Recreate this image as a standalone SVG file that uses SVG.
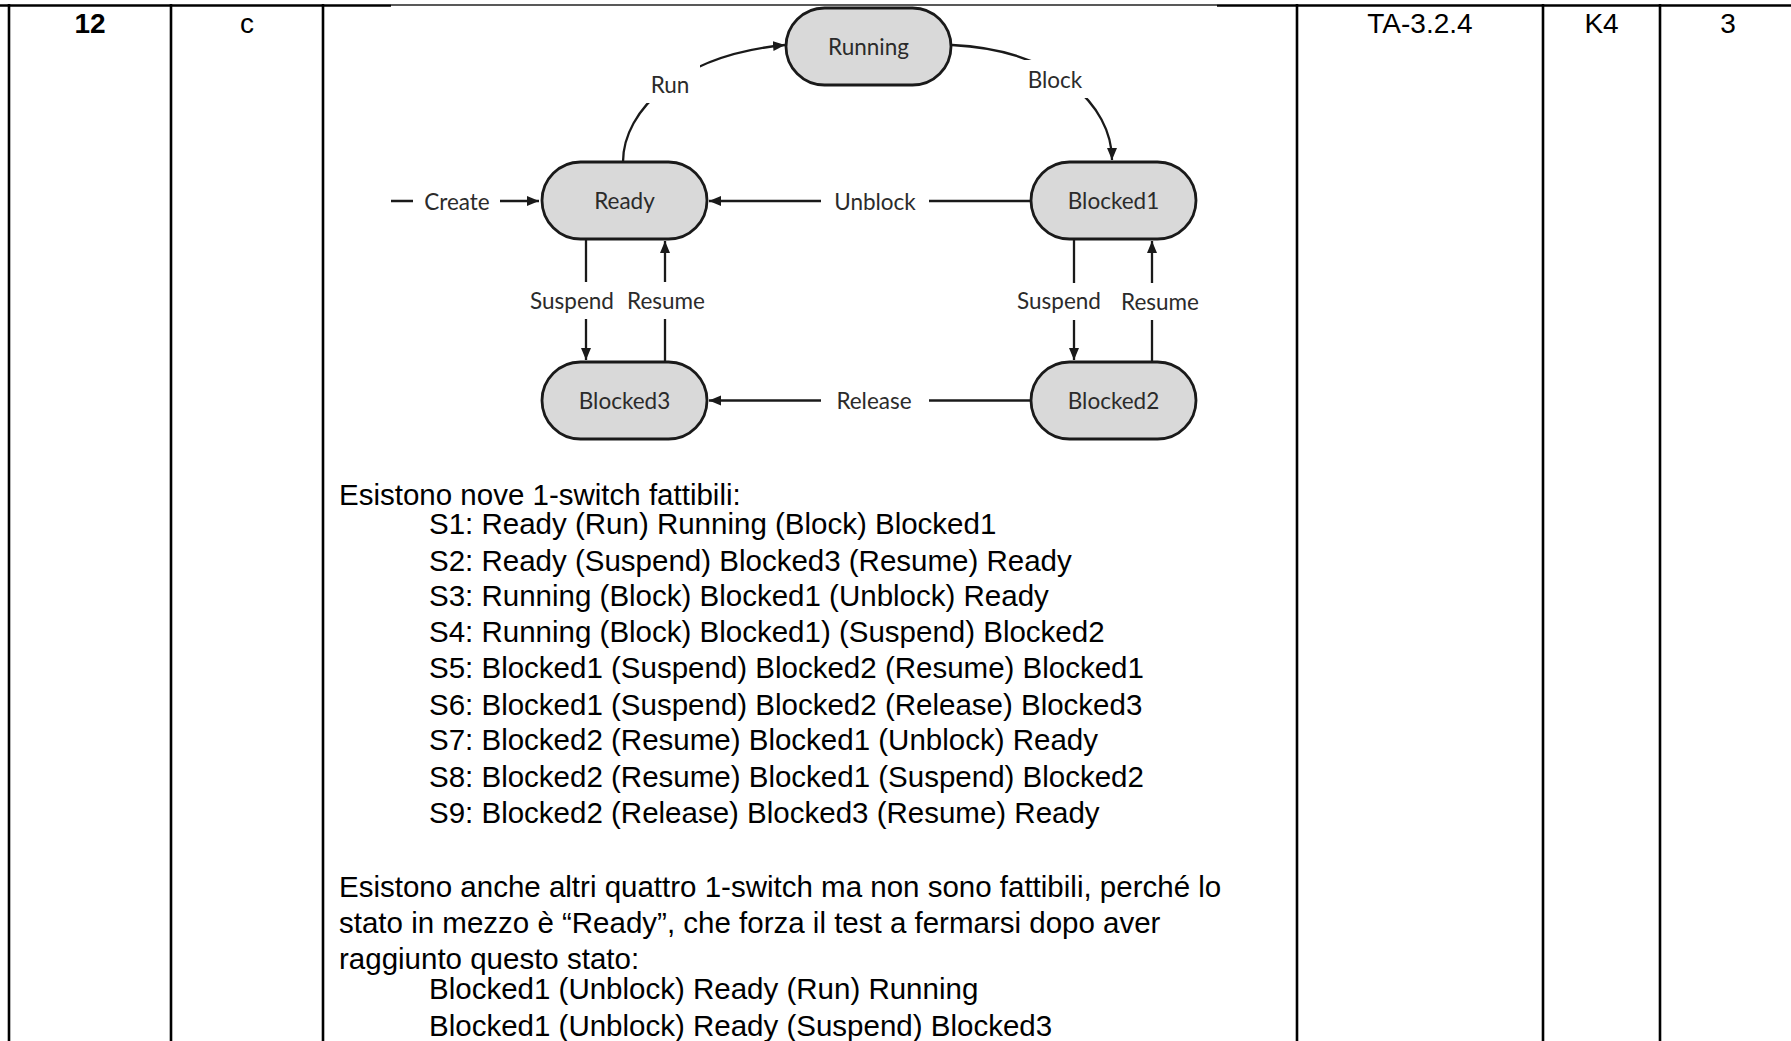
<svg xmlns="http://www.w3.org/2000/svg" width="1791" height="1041" viewBox="0 0 1791 1041">
  <defs>
    <marker id="arrow" markerUnits="userSpaceOnUse" markerWidth="13" markerHeight="11" refX="12" refY="5" orient="auto">
      <path d="M0,0 L12,5 L0,10 z" fill="#1a1a1a"/>
    </marker>
    <style>
      .grid { stroke: #000; stroke-width: 2.6; fill: none; }
      .hdr { font-family: "Liberation Sans", Arial, sans-serif; font-size: 28px; fill: #000; text-anchor: middle; }
      .body { font-family: "Liberation Sans", Arial, sans-serif; font-size: 29.5px; fill: #000; }
      .node rect { fill: #d9d9d9; stroke: #1a1a1a; stroke-width: 2.8; }
      .node text, .lbl text { font-family: Lato, "Open Sans", sans-serif; font-size: 22.5px; fill: #2b2b2b; text-anchor: middle; dominant-baseline: central; }
      .edge { stroke: #1a1a1a; stroke-width: 2.3; fill: none; }
      .lbl rect { fill: #fff; stroke: none; }
    </style>
  </defs>

  <rect width="1791" height="1041" fill="#fff"/>

  <!-- table grid -->
  <g id="table">
    <line class="grid" x1="0" y1="5.5" x2="391" y2="5.5"/>
    <line x1="391" y1="5" x2="1217" y2="5" stroke="#222" stroke-width="1.6"/>
    <line class="grid" x1="1217" y1="5.5" x2="1791" y2="5.5"/>
    <line class="grid" x1="9" y1="4" x2="9" y2="1041"/>
    <line class="grid" x1="171" y1="4" x2="171" y2="1041"/>
    <line class="grid" x1="323" y1="4" x2="323" y2="1041"/>
    <line class="grid" x1="1297" y1="4" x2="1297" y2="1041"/>
    <line class="grid" x1="1543" y1="4" x2="1543" y2="1041"/>
    <line class="grid" x1="1660" y1="4" x2="1660" y2="1041"/>
  </g>

  <!-- header cells -->
  <g id="header">
    <text class="hdr" x="90" y="33" font-weight="bold">12</text>
    <text class="hdr" x="247" y="33">c</text>
    <text class="hdr" x="1420" y="33">TA-3.2.4</text>
    <text class="hdr" x="1601.5" y="33">K4</text>
    <text class="hdr" x="1728" y="33">3</text>
  </g>

  <!-- transitions -->
  <g id="connectors">
    <path class="edge" d="M391,201 L539,201" marker-end="url(#arrow)"/>
    <path class="edge" d="M623,162 C623,110 680,55 785,45" marker-end="url(#arrow)"/>
    <path class="edge" d="M952,45 C1055,50 1112,105 1112,160" marker-end="url(#arrow)"/>
    <path class="edge" d="M1031,201 L709,201" marker-end="url(#arrow)"/>
    <path class="edge" d="M1031,400.5 L709,400.5" marker-end="url(#arrow)"/>
    <path class="edge" d="M586,239 L586,360" marker-end="url(#arrow)"/>
    <path class="edge" d="M665,362 L665,241" marker-end="url(#arrow)"/>
    <path class="edge" d="M1074,239 L1074,360" marker-end="url(#arrow)"/>
    <path class="edge" d="M1152,362 L1152,241" marker-end="url(#arrow)"/>
  </g>

  <!-- transition labels -->
  <g id="labels" class="lbl">
    <rect x="413" y="182" width="87" height="40"/>
    <text x="457" y="201">Create</text>
    <rect x="640" y="65" width="60" height="38"/>
    <text x="670" y="84">Run</text>
    <rect x="1018" y="60" width="74" height="38"/>
    <text x="1055" y="79">Block</text>
    <rect x="821" y="182" width="108" height="40"/>
    <text x="875" y="201">Unblock</text>
    <rect x="821" y="381" width="108" height="40"/>
    <text x="874" y="400">Release</text>
    <rect x="520" y="282" width="104" height="37"/>
    <text x="572" y="300">Suspend</text>
    <rect x="626" y="282" width="97" height="37"/>
    <text x="666" y="300">Resume</text>
    <rect x="1006" y="283" width="106" height="37"/>
    <text x="1059" y="300">Suspend</text>
    <rect x="1113" y="283" width="99" height="37"/>
    <text x="1160" y="301">Resume</text>
  </g>

  <!-- states -->
  <g id="running" class="node">
    <rect x="786" y="8" width="165" height="77" rx="38.5"/>
    <text x="868.5" y="46.5">Running</text>
  </g>
  <g id="ready" class="node">
    <rect x="542" y="162" width="165" height="77" rx="38.5"/>
    <text x="624.5" y="200.5">Ready</text>
  </g>
  <g id="blocked1" class="node">
    <rect x="1031" y="162" width="165" height="77" rx="38.5"/>
    <text x="1113.5" y="200.5">Blocked1</text>
  </g>
  <g id="blocked3" class="node">
    <rect x="542" y="362" width="165" height="77" rx="38.5"/>
    <text x="624.5" y="400.5">Blocked3</text>
  </g>
  <g id="blocked2" class="node">
    <rect x="1031" y="362" width="165" height="77" rx="38.5"/>
    <text x="1113.5" y="400.5">Blocked2</text>
  </g>

  <!-- answer text -->
  <g id="answer" class="body">
    <text x="339" y="505">Esistono nove 1-switch fattibili:</text>
    <text x="429" y="534">S1: Ready (Run) Running (Block) Blocked1</text>
    <text x="429" y="571">S2: Ready (Suspend) Blocked3 (Resume) Ready</text>
    <text x="429" y="606">S3: Running (Block) Blocked1 (Unblock) Ready</text>
    <text x="429" y="642">S4: Running (Block) Blocked1) (Suspend) Blocked2</text>
    <text x="429" y="678">S5: Blocked1 (Suspend) Blocked2 (Resume) Blocked1</text>
    <text x="429" y="715">S6: Blocked1 (Suspend) Blocked2 (Release) Blocked3</text>
    <text x="429" y="750">S7: Blocked2 (Resume) Blocked1 (Unblock) Ready</text>
    <text x="429" y="787">S8: Blocked2 (Resume) Blocked1 (Suspend) Blocked2</text>
    <text x="429" y="823">S9: Blocked2 (Release) Blocked3 (Resume) Ready</text>
    <text x="339" y="897">Esistono anche altri quattro 1-switch ma non sono fattibili, perché lo</text>
    <text x="339" y="933">stato in mezzo è “Ready”, che forza il test a fermarsi dopo aver</text>
    <text x="339" y="969">raggiunto questo stato:</text>
    <text x="429" y="999">Blocked1 (Unblock) Ready (Run) Running</text>
    <text x="429" y="1036">Blocked1 (Unblock) Ready (Suspend) Blocked3</text>
  </g>
</svg>
